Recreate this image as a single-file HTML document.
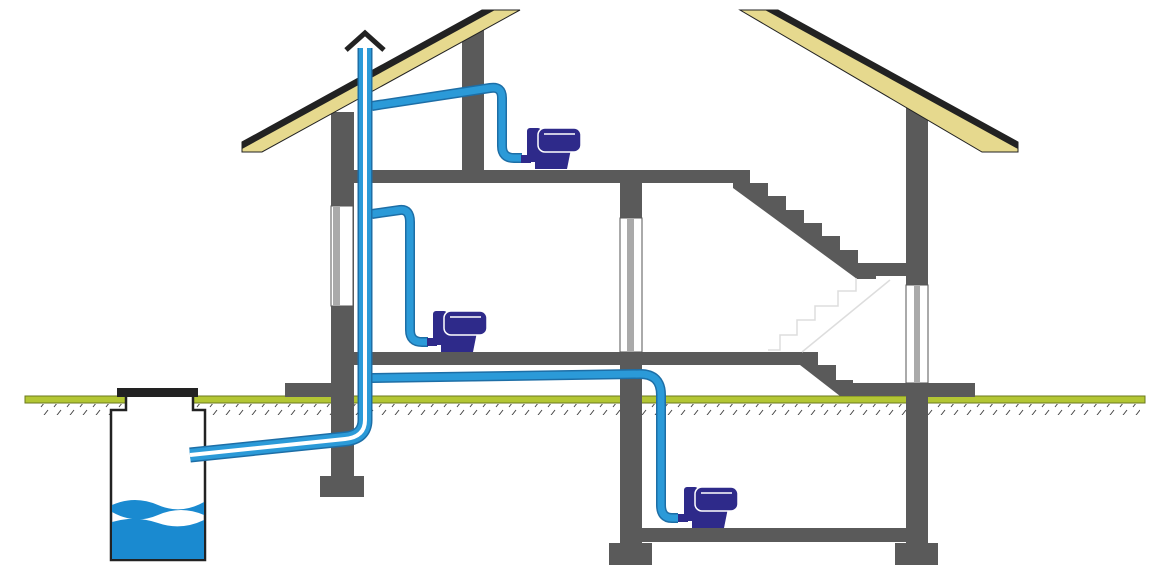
<!DOCTYPE html>
<html><head><meta charset="utf-8"><style>html,body{margin:0;padding:0;background:#fff}svg{display:block}</style></head>
<body>
<svg width="1167" height="580" viewBox="0 0 1167 580" xmlns="http://www.w3.org/2000/svg">
<defs>
<pattern id="h" width="13" height="12" patternUnits="userSpaceOnUse">
<line x1="2" y1="11" x2="9" y2="2" stroke="#444" stroke-width="1"/>
</pattern>
<g id="toilet">
<rect x="-6" y="-14" width="10" height="8" fill="#2e2a8a"/>
<rect x="0" y="-41" width="14" height="34" rx="3" fill="#2e2a8a"/>
<path d="M8,-20 L44,-20 L40,0 L8,0 Z" fill="#2e2a8a"/>
<rect x="11" y="-41" width="43" height="24" rx="7" fill="#2e2a8a" stroke="#fff" stroke-width="1.5"/>
<line x1="17" y1="-35" x2="48" y2="-35" stroke="#fff" stroke-width="1.5"/>
</g>
</defs>
<rect width="1167" height="580" fill="#fff"/>

<rect x="25" y="396" width="1120" height="7" fill="#b3c634" stroke="#6b7a1e" stroke-width="1"/>
<rect x="40" y="404" width="1100" height="11" fill="url(#h)"/>

<g fill="#5a5a5a">
<rect x="462" y="22" width="22" height="150"/>
<rect x="906" y="95" width="22" height="450"/>
<rect x="331" y="112" width="23" height="368"/>
<rect x="320" y="476" width="44" height="21"/>
<rect x="285" y="383" width="48" height="14"/>
<rect x="354" y="170" width="380" height="13"/>
<rect x="620" y="170" width="22" height="375"/>
<rect x="609" y="543" width="43" height="22"/>
<rect x="895" y="543" width="43" height="22"/>
<rect x="642" y="528" width="264" height="14"/>
<rect x="354" y="352" width="446" height="13"/>
<rect x="873" y="263" width="33" height="13"/>
<rect x="928" y="383" width="47" height="14"/>
<path d="M733,170 L750,170 L750,183 L768,183 L768,196 L786,196 L786,210 L804,210 L804,223 L822,223 L822,236 L840,236 L840,250 L858,250 L858,263 L876,263 L876,279 L857,279 L733,188 Z"/>
<path d="M800,352 L818,352 L818,365 L836,365 L836,380 L853,380 L853,383 L906,383 L906,396 L840,396 L800,365 Z"/>
</g>
<path d="M768,350 L780,350 L780,335 L797,335 L797,320 L815,320 L815,306 L838,306 L838,291 L856,291 L856,278" fill="none" stroke="#ddd" stroke-width="1.5"/>
<line x1="802" y1="352" x2="890" y2="280" stroke="#ddd" stroke-width="1.5"/>

<g stroke="#555" stroke-width="1" fill="#fff">
<rect x="331" y="206" width="22" height="100"/>
<rect x="620" y="218" width="22" height="134"/>
<rect x="906" y="285" width="22" height="98"/>
</g>
<g fill="#aaa">
<rect x="333" y="207" width="7" height="98"/>
<rect x="627" y="219" width="7" height="132"/>
<rect x="914" y="286" width="6" height="96"/>
</g>

<polygon points="242,142 482,10 520,10 262,152 242,152" fill="#e6d98e" stroke="#222" stroke-width="1"/>
<polygon points="242,142 482,10 495,10 242,149" fill="#222"/>
<polygon points="740,10 778,10 1018,142 1018,152 982,152" fill="#e6d98e" stroke="#222" stroke-width="1"/>
<polygon points="765,10 778,10 1018,142 1018,149" fill="#222"/>

<rect x="117" y="388" width="81" height="9" fill="#222"/>
<path d="M126,397 L126,410 L111,410 L111,560 L205,560 L205,410 L193,410 L193,397" fill="#fff" stroke="#222" stroke-width="2.5"/>
<path d="M112,505 Q135,495 158,505 T204,502 L204,515 Q181,505 158,515 T112,512 Z" fill="#1a8ad0"/>
<path d="M112,522 Q135,515 158,523 T204,520 L204,559 L112,559 Z" fill="#1a8ad0"/>

<g fill="none" stroke-linecap="butt" stroke-linejoin="round">
<path d="M372,106 L490,88 Q502,86 502,98 L502,146 Q502,158 514,158 L522,158" stroke="#1d6ea6" stroke-width="10"/>
<path d="M372,106 L490,88 Q502,86 502,98 L502,146 Q502,158 514,158 L522,158" stroke="#2b9ad8" stroke-width="7"/>
<path d="M372,214 L400,210 Q410,209 410,222 L410,330 Q410,342 422,342 L428,342" stroke="#1d6ea6" stroke-width="10"/>
<path d="M372,214 L400,210 Q410,209 410,222 L410,330 Q410,342 422,342 L428,342" stroke="#2b9ad8" stroke-width="7"/>
<path d="M372,378 L640,374 Q661,374 661,395 L661,505 Q661,518 672,518 L678,518" stroke="#1d6ea6" stroke-width="10"/>
<path d="M372,378 L640,374 Q661,374 661,395 L661,505 Q661,518 672,518 L678,518" stroke="#2b9ad8" stroke-width="7"/>
<path d="M365,48 L365,420 Q365,437 345,439 L190,455" stroke="#1d6ea6" stroke-width="15"/>
<path d="M365,48 L365,420 Q365,437 345,439 L190,455" stroke="#2b9ad8" stroke-width="12"/>
<path d="M365,48 L365,420 Q365,437 345,439 L190,455" stroke="#fff" stroke-width="4"/>
</g>
<polyline points="346,50 365,33 384,50" fill="none" stroke="#222" stroke-width="5"/>

<use href="#toilet" x="527" y="169"/>
<use href="#toilet" x="433" y="352"/>
<use href="#toilet" x="684" y="528"/>
</svg>
</body></html>
